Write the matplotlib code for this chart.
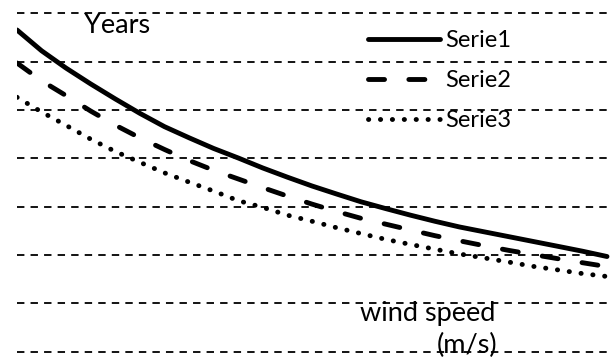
import matplotlib
matplotlib.use("Agg")
import matplotlib.pyplot as plt

# ---- data ----
wind_speed = [0.0, 0.5, 1.0, 1.5, 2.0, 2.5, 3.0, 3.5, 4.0, 4.5, 5.0, 5.5, 6.0,
              6.5, 7.0, 7.5, 8.0, 8.5, 9.0, 9.5, 10.0, 10.5, 11.0, 11.5, 12.0]
serie1 = [6.655, 6.225, 5.865, 5.538, 5.228, 4.930, 4.655, 4.425, 4.204, 4.007,
          3.800, 3.610, 3.428, 3.262, 3.100, 2.960, 2.825, 2.698, 2.580, 2.480,
          2.380, 2.280, 2.180, 2.079, 1.969]
serie2 = [5.972, 5.604, 5.296, 4.977, 4.686, 4.423, 4.183, 3.955, 3.753, 3.573,
          3.393, 3.219, 3.053, 2.900, 2.758, 2.638, 2.518, 2.400, 2.294, 2.193,
          2.096, 2.009, 1.924, 1.841, 1.760]
serie3 = [5.263, 4.959, 4.681, 4.396, 4.141, 3.918, 3.699, 3.508, 3.322, 3.124,
          2.985, 2.824, 2.698, 2.565, 2.443, 2.323, 2.220, 2.120, 2.021, 1.940,
          1.854, 1.765, 1.692, 1.616, 1.556]
series_names = ["Serie1", "Serie2", "Serie3"]
grid_values = [0, 1, 2, 3, 4, 5, 6, 7]

W, H = 611, 360
fig = plt.figure(figsize=(W / 100, H / 100), dpi=100)
ax = fig.add_axes([17 / W, 0, (W - 17) / W, 1])

FONT = "Lato"

lw = 3.5
ax.plot(wind_speed, serie1, color="black", lw=lw, solid_capstyle="round",
        solid_joinstyle="round", label=series_names[0])
ax.plot(wind_speed, serie2, color="black", lw=lw, linestyle=(0, (3.3, 5.0)),
        dash_capstyle="round", dash_joinstyle="round", label=series_names[1])
ax.plot(wind_speed, serie3, color="black", lw=lw, linestyle=(0, (0.05, 2.4)),
        dash_capstyle="round", dash_joinstyle="round", label=series_names[2])

# axis scaling: value 0 -> 351.7 px from top, 7 -> 13.3 px from top
scale_y = (351.7 - 13.3) / 7
ax.set_ylim(-(H - 351.7) / scale_y, 7 + 13.3 / scale_y)
scale_x = (607 - 17) / 12
ax.set_xlim(0, (W - 17) / scale_x)

ax.set_yticks(grid_values)
ax.set_xticks([])
ax.tick_params(axis="y", length=0, labelleft=False)
ax.yaxis.grid(True, color="black", lw=1.3, linestyle=(0, (4.1, 3.4)))
ax.set_axisbelow(True)
for s in ax.spines.values():
    s.set_visible(False)

leg = ax.legend(loc="upper left", bbox_to_anchor=((368 - 17) / (W - 17), 1 - 30 / H),
                frameon=False, prop={"family": FONT, "size": 17},
                handlelength=3.05, handletextpad=0.22, labelspacing=0.8,
                borderpad=0, borderaxespad=0)

fig.text(84 / W, 1 - 33 / H, "Years", family=FONT, fontsize=19.5,
         ha="left", va="baseline")
fig.text(495 / W, 1 - 321.5 / H, "wind speed", family=FONT, fontsize=19.5,
         ha="right", va="baseline")
fig.text(497 / W, 1 - 353 / H, "(m/s)", family=FONT, fontsize=19.5,
         ha="right", va="baseline")

fig.savefig("out.png", dpi=100)
